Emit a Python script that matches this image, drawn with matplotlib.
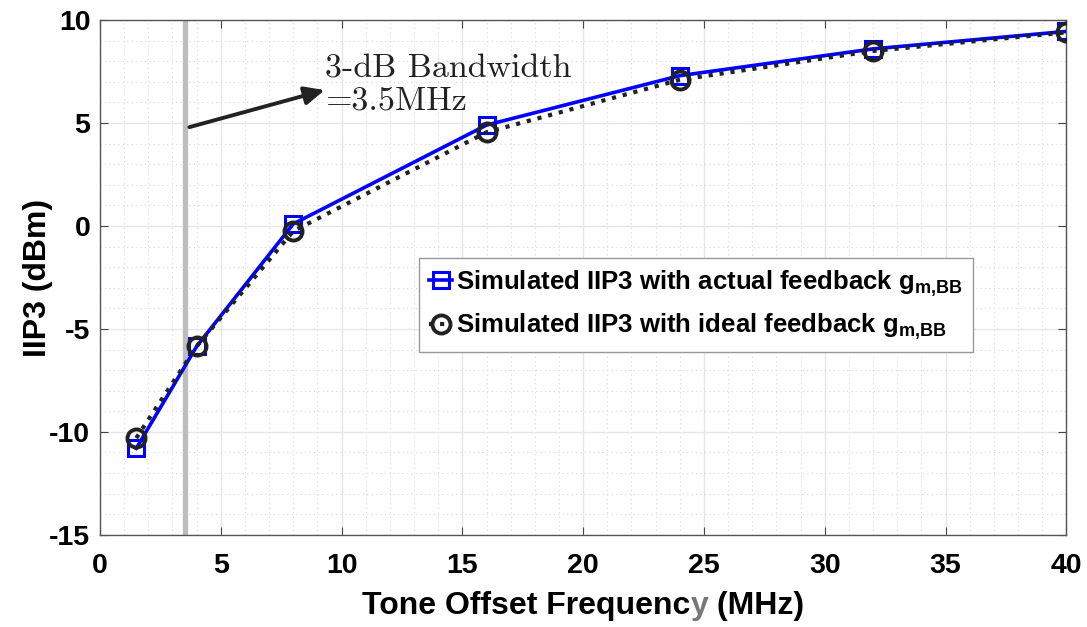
import numpy as np
import matplotlib
matplotlib.use('Agg')
import matplotlib.pyplot as plt
from matplotlib.offsetbox import TextArea, HPacker, AnchoredOffsetbox

plt.rcParams['font.family'] = ['Liberation Sans', 'DejaVu Sans']
plt.rcParams['font.weight'] = 'bold'
plt.rcParams['mathtext.fontset'] = 'custom'
plt.rcParams['mathtext.rm'] = 'Liberation Sans:bold'
plt.rcParams['mathtext.it'] = 'Liberation Sans:bold'
plt.rcParams['mathtext.bf'] = 'Liberation Sans:bold'

# tone offset (MHz) and IIP3 (dBm)
freq = [1.5, 4, 8, 16, 24, 32, 40]
iip3_actual = [-10.8, -5.85, 0.1, 4.9, 7.3, 8.6, 9.45]
iip3_ideal = [-10.3, -5.85, -0.25, 4.55, 7.1, 8.5, 9.4]
bw_3db = 3.5

xticks = [0, 5, 10, 15, 20, 25, 30, 35, 40]
yticks = [-15, -10, -5, 0, 5, 10]

fig = plt.figure(figsize=(10.87, 6.27), dpi=100)
ax = fig.add_axes([0.092, 0.147, 0.889, 0.821])

ax.plot([bw_3db, bw_3db], [-15, 10], color='#bdbdbd', lw=3.8, zorder=2)

ax.plot(freq, iip3_actual, '-s', color='#0000ff', lw=2.6, ms=11,
        mfc='none', mew=2.2, zorder=4,
        label=r'Simulated IIP3 with actual feedback g$_{m{,}BB}$')
ax.plot(freq, iip3_ideal, ':o', color='#222222', lw=3.0, ms=13,
        mfc='none', mew=2.8, zorder=5,
        label=r'Simulated IIP3 with ideal feedback g$_{m{,}BB}$')

ax.set_xlim(0, 40)
ax.set_ylim(-15, 10)
ax.set_xticks(xticks)
ax.set_yticks(yticks)
ax.set_xticks(np.arange(0, 41, 1), minor=True)
ax.set_yticks(np.arange(-15, 11, 1), minor=True)
ax.set_xticklabels([str(t) for t in xticks], fontsize=20.5, fontweight='bold')
ax.set_yticklabels([str(t) for t in yticks], fontsize=20.5, fontweight='bold')
ax.tick_params(which='both', direction='in', top=True, right=True, color='#444444')
ax.tick_params(which='major', length=6)
ax.tick_params(axis='x', which='major', pad=13)
ax.tick_params(axis='y', which='major', pad=7)
ax.tick_params(which='minor', length=0)
ax.grid(which='major', color='#e6e6e6', lw=1.0, ls='-')
ax.grid(which='minor', color='#d9d9d9', lw=0.8, ls=(0, (1, 3)))
ax.set_axisbelow(True)
for s in ax.spines.values():
    s.set_color('#555555')
    s.set_linewidth(1.0)

ax.set_ylabel('IIP3 (dBm)', fontsize=23, fontweight='bold', labelpad=-3)

# x label, with the faded "y"
lbl = dict(fontsize=23, fontweight='bold')
parts = [TextArea('Tone Offset Frequenc', textprops=dict(color='black', **lbl)),
         TextArea('y', textprops=dict(color='#777777', **lbl)),
         TextArea(' (MHz)', textprops=dict(color='black', **lbl))]
box = HPacker(children=parts, align='baseline', pad=0, sep=0)
anchored = AnchoredOffsetbox(loc='upper center', child=box, pad=0, frameon=False,
                             bbox_to_anchor=(0.5, -0.11), bbox_transform=ax.transAxes,
                             borderpad=0)
ax.add_artist(anchored)

ax.annotate('', xy=(9.3, 6.6), xytext=(3.7, 4.8),
            arrowprops=dict(arrowstyle='-|>,head_length=1.2,head_width=0.55',
                            color='#222222', lw=2.8, shrinkA=0, shrinkB=0))
ax.text(9.3, 6.85, '3-dB Bandwidth\n=3.5MHz', fontsize=24.5, family='cmr10',
        fontweight='normal', color='#222222', ha='left', va='center', linespacing=1.15)

leg = ax.legend(loc='upper left', bbox_to_anchor=(0.330, 0.538), fontsize=18.5,
                handlelength=0.9, handletextpad=0.15, borderpad=0.4,
                labelspacing=0.5, fancybox=False, edgecolor='#999999',
                framealpha=1, borderaxespad=0)
leg.get_frame().set_linewidth(1.0)

fig.savefig('out.png', dpi=100)
